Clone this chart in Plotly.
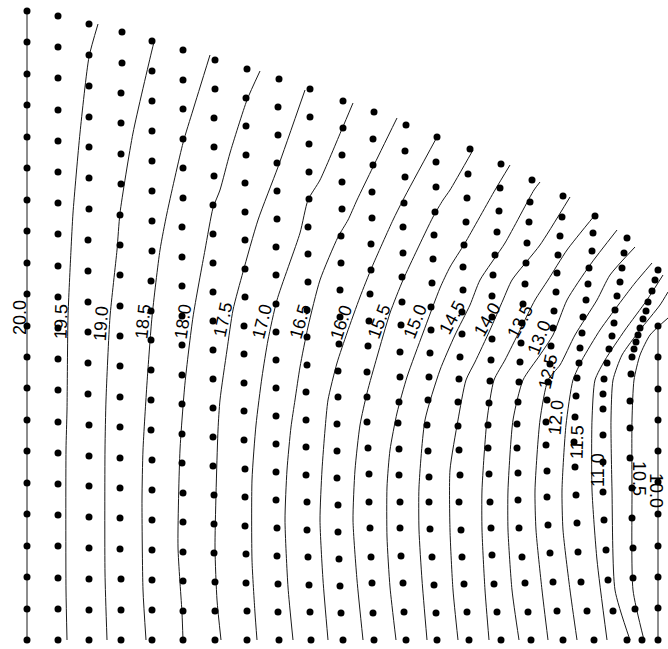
import plotly.graph_objects as go

# ---- mesh nodes, one list per mesh column (x to the right, y measured downward) ----
MESH_X = [
    [27, 27, 27, 27, 27, 27, 27, 27, 27, 27, 27, 27, 27, 27, 27, 27, 27, 27, 27, 27, 27],
    [58, 58, 58, 58, 58, 58, 58, 58, 58, 58, 58, 58, 58, 58, 58, 58, 58, 58, 58, 58, 58],
    [89, 89, 89, 89, 89, 89, 89, 88, 88, 88, 88, 88, 88, 89, 89, 89, 89, 89, 89, 89, 89],
    [122, 122, 121, 121, 121, 121, 120, 120, 120, 120, 120, 120, 120, 120, 120, 120, 120, 120, 121, 121, 121],
    [152, 152, 152, 152, 152, 152, 152, 152, 151, 151, 151, 151, 151, 151, 152, 152, 152, 152, 152, 152, 152],
    [183, 183, 183, 183, 183, 183, 182, 182, 182, 182, 182, 182, 182, 182, 182, 183, 183, 183, 183, 183, 183],
    [215, 215, 214, 214, 214, 213, 213, 213, 213, 213, 213, 213, 213, 213, 213, 214, 214, 214, 215, 215, 215],
    [247, 246, 246, 246, 245, 245, 245, 245, 245, 244, 244, 244, 244, 244, 245, 245, 245, 246, 246, 247, 247],
    [279, 278, 278, 277, 277, 277, 276, 276, 276, 276, 276, 276, 276, 276, 276, 276, 277, 277, 278, 278, 279],
    [310, 310, 309, 309, 309, 308, 308, 308, 307, 307, 307, 306, 306, 306, 306, 307, 307, 308, 309, 310, 311],
    [343, 343, 342, 342, 342, 341, 341, 340, 340, 339, 338, 338, 337, 337, 337, 338, 338, 339, 340, 341, 343],
    [374, 373, 373, 372, 372, 371, 371, 370, 369, 368, 367, 367, 367, 368, 369, 369, 370, 371, 372, 373, 374],
    [406, 405, 405, 404, 403, 403, 402, 402, 401, 400, 400, 399, 398, 399, 399, 400, 400, 401, 403, 404, 406],
    [437, 436, 436, 435, 434, 433, 432, 431, 431, 430, 429, 428, 427, 428, 429, 429, 430, 432, 434, 436, 437],
    [470, 468, 467, 466, 464, 463, 463, 462, 462, 460, 459, 458, 458, 459, 460, 459, 461, 462, 464, 467, 469],
    [501, 500, 499, 497, 495, 493, 492, 492, 492, 491, 490, 489, 488, 488, 489, 490, 491, 492, 494, 497, 501],
    [532, 530, 529, 527, 526, 525, 523, 522, 521, 520, 519, 518, 517, 517, 518, 518, 519, 522, 525, 528, 531],
    [563, 562, 560, 558, 557, 556, 554, 553, 551, 550, 548, 547, 546, 546, 547, 547, 548, 550, 553, 557, 563],
    [595, 593, 592, 589, 588, 586, 583, 582, 580, 579, 577, 576, 575, 574, 575, 576, 577, 578, 581, 587, 594],
    [627, 624, 622, 620, 617, 615, 614, 612, 609, 607, 604, 603, 603, 603, 603, 603, 604, 606, 608, 613, 627],
    [658, 655, 652, 648, 646, 643, 640, 638, 636, 634, 632, 631, 630, 630, 630, 632, 632, 633, 633, 635, 642],
    [658, 658, 658, 658, 658, 658, 658, 658, 658, 658, 658],
]
MESH_Y = [
    [11, 42, 74, 105, 137, 168, 200, 231, 263, 294, 326, 357, 388, 420, 451, 483, 514, 546, 577, 609, 640],
    [16, 47, 78, 110, 141, 172, 203, 234, 266, 297, 328, 359, 390, 422, 453, 484, 515, 546, 578, 609, 640],
    [24, 55, 86, 117, 147, 178, 209, 240, 271, 302, 332, 363, 394, 425, 456, 486, 517, 548, 579, 610, 640],
    [32, 63, 93, 123, 154, 184, 215, 245, 275, 306, 336, 366, 397, 427, 458, 488, 518, 549, 579, 610, 640],
    [41, 71, 101, 131, 161, 191, 221, 251, 281, 311, 340, 370, 400, 430, 460, 490, 520, 550, 580, 610, 640],
    [50, 80, 109, 139, 168, 198, 227, 257, 286, 316, 345, 375, 404, 434, 463, 493, 522, 552, 581, 611, 640],
    [60, 89, 118, 147, 176, 205, 234, 263, 292, 321, 350, 379, 408, 437, 466, 495, 524, 553, 582, 611, 640],
    [69, 98, 126, 155, 183, 212, 240, 269, 297, 326, 354, 383, 411, 440, 469, 497, 526, 554, 583, 611, 640],
    [79, 107, 135, 163, 191, 219, 247, 275, 304, 332, 360, 388, 416, 444, 472, 500, 528, 556, 584, 612, 640],
    [89, 117, 144, 172, 199, 227, 254, 282, 310, 337, 365, 392, 420, 447, 475, 502, 530, 557, 585, 612, 640],
    [101, 128, 155, 182, 209, 236, 263, 290, 317, 344, 371, 397, 424, 451, 478, 505, 532, 559, 586, 613, 640],
    [112, 139, 165, 192, 218, 244, 270, 294, 321, 346, 372, 397, 422, 448, 474, 502, 528, 557, 583, 613, 640],
    [125, 151, 177, 203, 227, 253, 277, 302, 325, 352, 377, 402, 423, 449, 475, 502, 528, 556, 583, 612, 640],
    [137, 162, 187, 212, 235, 259, 283, 307, 330, 353, 377, 400, 425, 451, 477, 502, 529, 557, 585, 613, 640],
    [149, 174, 198, 222, 245, 267, 290, 312, 334, 357, 379, 402, 426, 450, 475, 502, 530, 557, 584, 612, 640],
    [164, 188, 211, 232, 255, 275, 296, 317, 339, 360, 381, 403, 425, 448, 474, 502, 528, 555, 584, 612, 640],
    [180, 202, 222, 243, 263, 284, 304, 323, 343, 362, 382, 402, 424, 448, 473, 500, 528, 557, 583, 612, 640],
    [196, 217, 236, 255, 273, 292, 311, 328, 346, 364, 382, 400, 422, 445, 471, 497, 525, 553, 582, 611, 640],
    [216, 233, 251, 268, 284, 300, 317, 333, 348, 363, 378, 396, 417, 442, 467, 495, 523, 552, 582, 611, 640],
    [238, 253, 268, 282, 296, 310, 323, 336, 349, 363, 379, 394, 409, 435, 462, 492, 520, 550, 580, 611, 640],
    [270, 280, 291, 302, 311, 319, 328, 335, 342, 349, 357, 374, 401, 428, 458, 488, 518, 548, 578, 609, 640],
    [326, 357, 389, 420, 451, 482, 514, 546, 577, 608, 640],
]

# ---- isolines of the field ----
LEVELS = [20.0, 19.5, 19.0, 18.5, 18.0, 17.5, 17.0, 16.5, 16.0, 15.5, 15.0,
          14.5, 14.0, 13.5, 13.0, 12.5, 12.0, 11.5, 11.0, 10.5, 10.0]
ISO_X = [
    [27, 27],
    [98, 89, 80, 73, 71, 68, 67, 66, 66, 67],
    [154, 152, 133, 120, 117, 110, 106, 105, 105, 107],
    [210, 193, 183, 167, 160, 152, 147, 143, 142, 143, 146],
    [260, 247, 230, 220, 213, 205, 193, 185, 180, 178, 182, 183],
    [305, 278, 258, 243, 233, 227, 220, 218, 215, 217, 221],
    [353, 342, 320, 308, 300, 277, 268, 262, 256, 252, 252, 255, 257],
    [397, 373, 357, 348, 338, 320, 308, 300, 295, 291, 287, 285, 288, 293],
    [437, 403, 393, 372, 360, 347, 337, 328, 325, 322, 320, 323, 328],
    [473, 450, 443, 433, 417, 403, 390, 377, 367, 360, 355, 353, 357, 363],
    [510, 495, 465, 450, 440, 423, 407, 397, 390, 387, 387, 390, 396],
    [540, 534, 505, 480, 470, 455, 440, 425, 419, 419, 422, 427],
    [570, 540, 512, 503, 490, 475, 466, 458, 450, 450, 453, 458],
    [595, 567, 548, 535, 520, 505, 494, 487, 482, 482, 485, 489],
    [617, 590, 567, 553, 540, 523, 513, 508, 508, 512, 519],
    [635, 610, 597, 575, 560, 548, 540, 535, 536, 542, 548],
    [652, 635, 622, 600, 582, 573, 566, 562, 563, 570, 577],
    [663, 647, 625, 605, 595, 592, 592, 597, 607],
    [668, 660, 640, 622, 613, 611, 612, 615, 630],
    [668, 650, 640, 634, 632, 632, 633, 644],
    [658, 658],
]
ISO_Y = [
    [11, 640],
    [24, 57, 133, 213, 250, 317, 410, 450, 590, 640],
    [42, 50, 133, 213, 250, 317, 400, 450, 573, 640],
    [55, 110, 143, 213, 250, 317, 383, 450, 500, 590, 640],
    [71, 100, 153, 190, 208, 250, 317, 383, 450, 547, 613, 640],
    [90, 167, 220, 272, 310, 350, 400, 430, 547, 600, 640],
    [103, 129, 180, 200, 233, 300, 340, 377, 425, 480, 560, 613, 640],
    [118, 167, 200, 220, 237, 280, 327, 367, 400, 427, 470, 520, 587, 640],
    [137, 200, 220, 267, 297, 333, 363, 400, 430, 470, 520, 580, 640],
    [150, 190, 200, 217, 250, 280, 313, 357, 393, 425, 470, 520, 580, 640],
    [165, 190, 243, 267, 288, 333, 377, 413, 450, 487, 537, 587, 640],
    [182, 190, 243, 280, 305, 335, 370, 420, 487, 530, 580, 640],
    [197, 245, 280, 300, 330, 362, 380, 420, 470, 530, 590, 640],
    [215, 250, 280, 300, 330, 360, 380, 420, 490, 530, 590, 640],
    [230, 265, 300, 335, 355, 380, 420, 490, 530, 590, 640],
    [247, 275, 300, 335, 365, 380, 420, 490, 530, 590, 640],
    [263, 283, 300, 330, 360, 380, 425, 490, 530, 590, 640],
    [275, 300, 330, 360, 380, 420, 490, 560, 640],
    [292, 305, 330, 355, 380, 420, 490, 590, 640],
    [318, 335, 355, 380, 420, 490, 590, 640],
    [326, 640],
]

# in-line level labels: position and text angle
LABEL_X = [20, 61, 101, 143, 183, 223, 262, 300, 341, 379, 415,
           452, 487, 520, 539, 548, 556, 577, 598, 639, 656]
LABEL_Y = [318, 322, 324, 322, 322, 320, 322, 322, 323, 322, 322,
           318, 320, 322, 338, 372, 418, 442, 470, 478, 490]
LABEL_ANGLE = [-90, -88, -86, -84, -82, -78, -76, -74, -72, -70, -68,
               -62, -60, -62, -68, -78, -85, -88, -90, 90, 90]

fig = go.Figure()

for xs, ys in zip(ISO_X, ISO_Y):
    fig.add_trace(go.Scatter(
        x=xs, y=ys, mode="lines",
        line=dict(color="#1a1a1a", width=1, shape="spline", smoothing=0.6),
        hoverinfo="skip", showlegend=False,
    ))

for xs, ys in zip(MESH_X, MESH_Y):
    fig.add_trace(go.Scatter(
        x=xs, y=ys, mode="markers",
        marker=dict(color="black", size=7, line=dict(width=0)),
        hoverinfo="skip", showlegend=False,
    ))

for lev, lx, ly, ang in zip(LEVELS, LABEL_X, LABEL_Y, LABEL_ANGLE):
    fig.add_annotation(
        x=lx, y=ly, text=f"{lev:.1f}", showarrow=False,
        textangle=ang, xanchor="center", yanchor="middle",
        font=dict(family="Liberation Sans", size=18, color="black"),
    )

fig.update_layout(
    width=668, height=649,
    margin=dict(l=0, r=0, t=0, b=0),
    paper_bgcolor="white", plot_bgcolor="white",
    xaxis=dict(range=[0, 668], visible=False, fixedrange=True),
    yaxis=dict(range=[649, 0], visible=False, fixedrange=True),
)

fig.write_html("out.html")
